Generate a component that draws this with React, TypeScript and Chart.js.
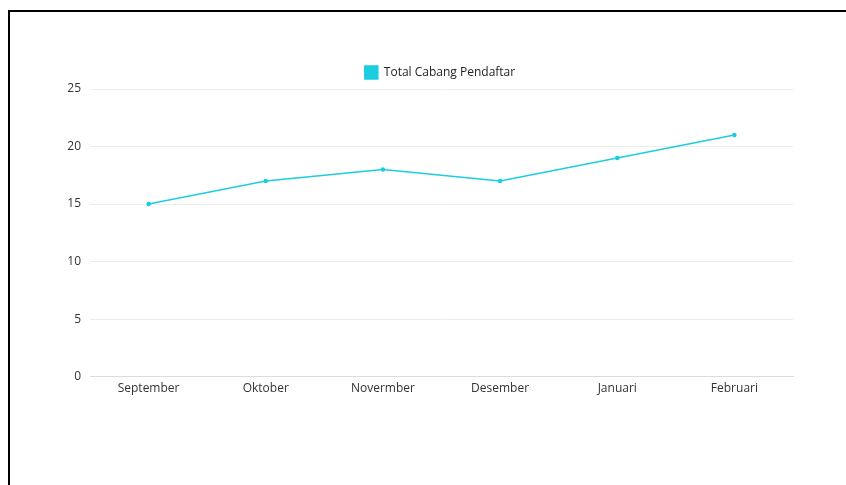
import React, { useEffect, useRef } from "react";
import { Chart, registerables } from "chart.js";

Chart.register(...registerables);

const categories = ["September", "Oktober", "Novermber", "Desember", "Januari", "Februari"];
const seriesLabel = "Total Cabang Pendaftar";
const seriesValues = [15, 17, 18, 17, 19, 21];
const yTicks = [0, 5, 10, 15, 20, 25];

export default function App() {
  const ref = useRef<HTMLCanvasElement | null>(null);

  useEffect(() => {
    if (!ref.current) return;
    const color = "#1ccddf";
    const font = { family: "'Open Sans', sans-serif", size: 12 };
    const chart = new Chart(ref.current, {
      type: "line",
      data: {
        labels: categories,
        datasets: [
          {
            label: seriesLabel,
            data: seriesValues,
            borderColor: color,
            backgroundColor: color,
            borderWidth: 1.5,
            pointRadius: 1.5,
            pointBackgroundColor: color,
            pointBorderColor: color,
            tension: 0,
            yAxisID: "y",
          },
        ],
      },
      options: {
        responsive: false,
        animation: false,
        layout: { padding: { top: 44, left: 0, right: 0, bottom: 17 } },
        plugins: {
          legend: {
            display: true,
            position: "top",
            labels: {
              boxWidth: 13,
              boxHeight: 13,
              padding: 10,
              color: "#222",
              font,
            },
          },
          tooltip: { enabled: false },
        },
        scales: {
          x: {
            offset: true,
            grid: { display: false, drawTicks: false },
            border: { display: true, color: "#dcdcdc" },
            ticks: { padding: 5, color: "#333", font },
          },
          y: {
            position: "left",
            min: yTicks[0],
            max: yTicks[yTicks.length - 1],
            afterFit: (s: any) => {
              s.width = 80;
            },
            afterBuildTicks: (s: any) => {
              s.ticks = yTicks.map((v) => ({ value: v }));
            },
            grid: { color: "#ececec", drawTicks: false },
            border: { display: false },
            ticks: { padding: 9, color: "#333", font },
          },
          yRight: {
            position: "right",
            display: true,
            min: 0,
            max: 25,
            afterFit: (s: any) => {
              s.width = 77;
            },
            grid: { display: false, drawTicks: false },
            border: { display: false },
            ticks: { display: false },
          },
        },
      },
    });
    return () => chart.destroy();
  }, []);

  return (
    <div
      style={{
        position: "fixed",
        left: 8,
        top: 10,
        width: 900,
        height: 600,
        borderLeft: "2px solid #000",
        borderTop: "2px solid #000",
        boxSizing: "border-box",
        background: "#fff",
      }}
    >
      <canvas ref={ref} width={860} height={406} style={{ display: "block" }} />
    </div>
  );
}
